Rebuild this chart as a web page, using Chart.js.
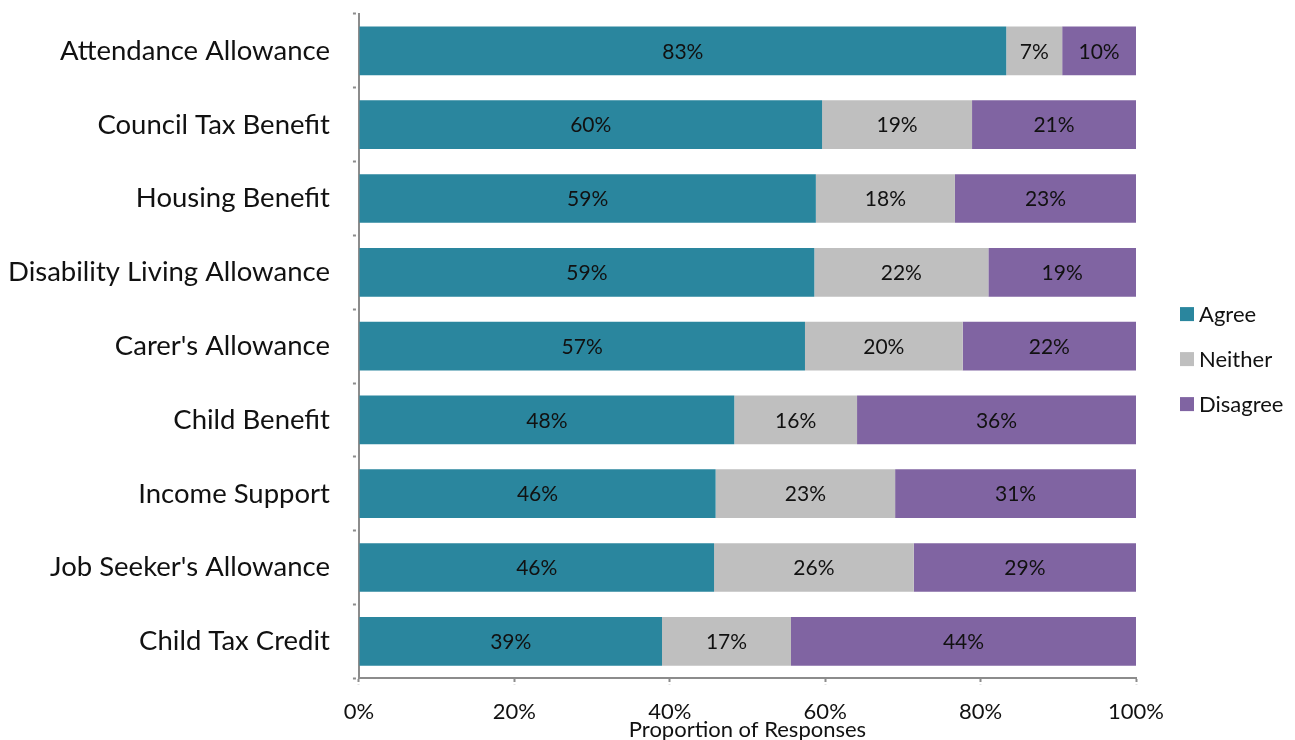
<!DOCTYPE html>
<html>
<head>
<meta charset="utf-8">
<script src="https://cdn.jsdelivr.net/npm/chart.js@4/dist/chart.umd.min.js"></script>
<style>
  html, body { margin: 0; padding: 0; background: #fff; }
  #wrap { width: 1295px; height: 740px; }
</style>
</head>
<body>
<div id="wrap"><canvas id="chart" width="1295" height="740"></canvas></div>
<script>
const categories = [
  "Attendance Allowance",
  "Council Tax Benefit",
  "Housing Benefit",
  "Disability Living Allowance",
  "Carer's Allowance",
  "Child Benefit",
  "Income Support",
  "Job Seeker's Allowance",
  "Child Tax Credit"
];
const agree    = [83.3, 59.6, 58.8, 58.6, 57.4, 48.3, 45.9, 45.7, 39.0];
const neither  = [7.2, 19.3, 17.9, 22.4, 20.3, 15.8, 23.1, 25.7, 16.6];
const disagree = [9.5, 21.1, 23.3, 19.0, 22.3, 35.9, 31.0, 28.6, 44.4];
const seriesNames = ["Agree", "Neither", "Disagree"];
const seriesColors = ["#2a869e", "#bfbfbf", "#8064a2"];
const xTicks = [0, 20, 40, 60, 80, 100];

const FONT = "Lato, 'Open Sans', sans-serif";
const axisGray = "#8c8c8c";

// draw rounded percentage in the middle of each segment
const barLabels = {
  id: "barLabels",
  afterDatasetsDraw(chart) {
    const ctx = chart.ctx;
    ctx.save();
    ctx.font = "21px " + FONT;
    ctx.fillStyle = "#111";
    ctx.textAlign = "center";
    ctx.textBaseline = "middle";
    chart.data.datasets.forEach((ds, i) => {
      chart.getDatasetMeta(i).data.forEach((bar, j) => {
        const p = bar.getProps(["x", "y", "base"], true);
        ctx.fillText(Math.round(ds.data[j]) + "%", (p.x + p.base) / 2, p.y + 1);
      });
    });
    ctx.restore();
  }
};

// simple legend to the right of the plot
const sideLegend = {
  id: "sideLegend",
  afterDraw(chart) {
    const ctx = chart.ctx;
    const area = chart.chartArea;
    const x = area.right + 44;
    const gap = 45;
    const y0 = (area.top + area.bottom) / 2 + 13 - gap;
    ctx.save();
    ctx.font = "22px " + FONT;
    ctx.textBaseline = "middle";
    ctx.textAlign = "left";
    chart.data.datasets.forEach((ds, i) => {
      const y = y0 + i * gap;
      ctx.fillStyle = ds.backgroundColor;
      ctx.fillRect(x, y - 7, 14, 14);
      ctx.fillStyle = "#111";
      ctx.fillText(ds.label, x + 19, y + 1);
    });
    ctx.restore();
  }
};

new Chart(document.getElementById("chart"), {
  type: "bar",
  data: {
    labels: categories,
    datasets: [
      { label: seriesNames[0], data: agree, backgroundColor: seriesColors[0] },
      { label: seriesNames[1], data: neither, backgroundColor: seriesColors[1] },
      { label: seriesNames[2], data: disagree, backgroundColor: seriesColors[2] }
    ]
  },
  options: {
    indexAxis: "y",
    responsive: false,
    animation: false,
    categoryPercentage: 1,
    barPercentage: 0.66,
    layout: { padding: { top: 14, right: 159, left: -15, bottom: -3 } },
    plugins: {
      tooltip: { enabled: false },
      legend: { display: false }
    },
    scales: {
      x: {
        stacked: true,
        min: 0,
        max: 100,
        afterBuildTicks(axis) { axis.ticks = xTicks.map(v => ({ value: v })); },
        ticks: {
          callback: v => v + "%",
          font: { family: FONT, size: 22 },
          color: "#111",
          padding: 15
        },
        grid: {
          drawOnChartArea: false,
          tickLength: 6,
          tickColor: axisGray,
          tickWidth: 2,
          tickBorderDash: [3, 2]
        },
        border: { color: axisGray, width: 2, dash: [4, 2] },
        title: {
          display: true,
          text: "Proportion of Responses",
          font: { family: FONT, size: 22 },
          color: "#111",
          padding: { top: -24, bottom: 0 }
        }
      },
      y: {
        stacked: true,
        afterFit(axis) { axis.paddingTop = 0; axis.paddingBottom = 0; },
        ticks: {
          font: { family: FONT, size: 27.5 },
          color: "#111",
          padding: 23
        },
        grid: {
          drawOnChartArea: false,
          offset: true,
          tickLength: 6,
          tickColor: axisGray,
          tickWidth: 2,
          tickBorderDash: [3, 2]
        },
        border: { color: axisGray, width: 2, dash: [4, 2] }
      }
    }
  },
  plugins: [barLabels, sideLegend]
});
</script>
</body>
</html>
